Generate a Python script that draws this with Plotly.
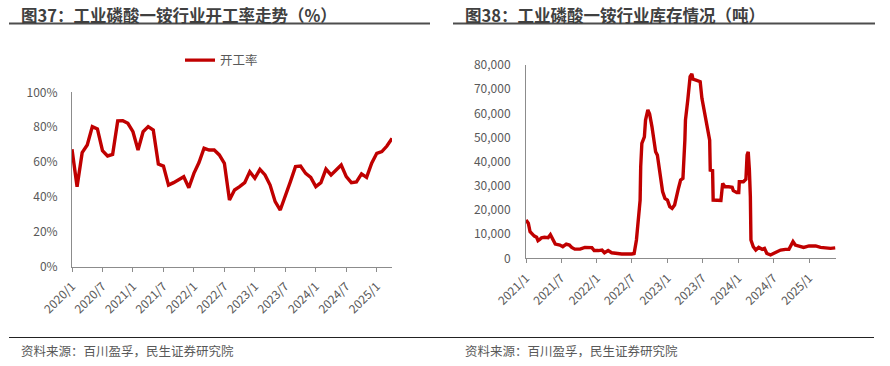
import pandas as pd
import plotly.graph_objects as go

# ---------------- data ----------------
left_title = "图37：工业磷酸一铵行业开工率走势（%）"
right_title = "图38：工业磷酸一铵行业库存情况（吨）"
source_text = "资料来源：百川盈孚，民生证券研究院"
legend_name = "开工率"

months = [d.strftime("%Y/%-m") for d in pd.date_range("2020-01-01", "2025-04-01", freq="MS")]
operating_rate = [67.3, 45.9, 65.4, 69.8, 80.3, 79.0, 66.5, 63.5, 64.4, 83.6,
                  83.7, 82.2, 77.4, 66.9, 77.4, 80.3, 78.4, 58.9, 57.7, 46.8,
                  48.2, 49.7, 51.6, 45.3, 53.5, 59.7, 67.9, 66.9, 66.9, 64.1,
                  59.3, 38.2, 44.0, 45.9, 48.2, 54.5, 50.7, 55.8, 52.6, 46.8,
                  37.3, 32.5, 40.2, 48.8, 57.4, 57.7, 53.5, 51.2, 45.9, 48.2,
                  56.0, 52.6, 55.4, 58.3, 51.6, 48.2, 48.6, 53.2, 51.2, 59.3,
                  65.0, 66.0, 69.2, 73.6]
left_ticks = ["2020/1", "2020/7", "2021/1", "2021/7", "2022/1", "2022/7",
              "2023/1", "2023/7", "2024/1", "2024/7", "2025/1"]

inv_dates = ["2021-01-01", "2021-01-13", "2021-01-22", "2021-02-04", "2021-02-13",
             "2021-02-25", "2021-03-04", "2021-03-13", "2021-03-22", "2021-04-06",
             "2021-04-25", "2021-05-07", "2021-05-19", "2021-06-01", "2021-06-25",
             "2021-07-10", "2021-07-28", "2021-08-13", "2021-08-25", "2021-09-10",
             "2021-10-07", "2021-11-01", "2021-12-07", "2021-12-19", "2022-01-10",
             "2022-01-28", "2022-02-10", "2022-03-01", "2022-03-19", "2022-04-13",
             "2022-05-10", "2022-07-01", "2022-07-13", "2022-07-25", "2022-08-07",
             "2022-08-13", "2022-08-16", "2022-08-22", "2022-09-04", "2022-09-10",
             "2022-09-22", "2022-10-01", "2022-10-13", "2022-10-22", "2022-11-01",
             "2022-11-10", "2022-11-25", "2022-12-07", "2022-12-19", "2023-01-01",
             "2023-01-13", "2023-01-25", "2023-02-07", "2023-02-19", "2023-02-27",
             "2023-03-10", "2023-03-22", "2023-04-01", "2023-04-04", "2023-04-16",
             "2023-04-28", "2023-05-07", "2023-05-13", "2023-05-25", "2023-06-19",
             "2023-06-28", "2023-07-10", "2023-07-22", "2023-08-01", "2023-08-07",
             "2023-08-10", "2023-08-22", "2023-08-25", "2023-09-13", "2023-10-04",
             "2023-10-13", "2023-10-25", "2023-11-13", "2023-12-01", "2023-12-07",
             "2023-12-25", "2024-01-04", "2024-01-07", "2024-01-28", "2024-02-10",
             "2024-02-16", "2024-02-22", "2024-02-28", "2024-03-04", "2024-03-07",
             "2024-03-19", "2024-04-01", "2024-04-16", "2024-05-04", "2024-05-16",
             "2024-05-28", "2024-06-16", "2024-07-01", "2024-07-19", "2024-08-07",
             "2024-09-01", "2024-09-19", "2024-09-28", "2024-10-10", "2024-10-22",
             "2024-11-10", "2024-12-04", "2025-01-01", "2025-02-04", "2025-03-01",
             "2025-03-25", "2025-04-22", "2025-05-16"]
inventory = [15800, 14500, 11000, 9600, 9200,
             8700, 7300, 7800, 8500, 8700,
             8500, 9800, 7600, 5900, 5500,
             4800, 5900, 5500, 4500, 3800,
             3800, 4500, 4400, 3200, 3200,
             3400, 2300, 3200, 2300, 2000,
             1800, 1800, 2000, 7600, 18600,
             24100, 37900, 47600, 50300, 57200,
             61400, 59700, 54500, 50300, 44100,
             42700, 35200, 27600, 24800, 24100,
             21400, 20700, 22100, 25500, 29000,
             32400, 33100, 48900, 57200, 65500,
             75200, 76300, 74100, 73800, 73100,
             66200, 60700, 57200, 51700, 48900,
             36500, 36300, 24100, 23900, 23900,
             31000, 29600, 29600, 29400, 28000,
             27200, 27200, 31700, 31700, 32700,
             42700, 44100, 36500, 25500, 7600,
             4800, 3400, 4500, 3700, 4100,
             2000, 1400, 2000, 2700, 3400,
             3700, 3700, 5100, 6900, 5500,
             5100, 4500, 5100, 5100, 4500,
             4300, 4100, 4300]
right_tickvals = ["2021-01-01", "2021-07-01", "2022-01-01", "2022-07-01", "2023-01-01",
                  "2023-07-01", "2024-01-01", "2024-07-01", "2025-01-01"]
right_ticktext = ["2021/1", "2021/7", "2022/1", "2022/7", "2023/1",
                  "2023/7", "2024/1", "2024/7", "2025/1"]

# ---------------- style ----------------
W, H = 890, 366
RED = "#C00000"
AXIS = "#8C8C8C"
TXT = "#595959"
FONT = "Noto Sans CJK SC"

def px_x(v):
    return v / W

def px_y(v):
    return 1 - v / H

fig = go.Figure()
fig.add_trace(go.Scatter(x=months, y=operating_rate, mode="lines", name=legend_name,
                         line=dict(color=RED, width=3.4), xaxis="x", yaxis="y",
                         showlegend=True))
fig.add_trace(go.Scatter(x=inv_dates, y=inventory, mode="lines", name="库存",
                         line=dict(color=RED, width=3.4), xaxis="x2", yaxis="y2",
                         showlegend=False))

axis_common = dict(showgrid=False, zeroline=False, showline=True, linecolor=AXIS,
                   linewidth=1, automargin=False,
                   tickfont=dict(family=FONT, size=12, color=TXT))

fig.update_layout(
    template="none",
    width=W, height=H, autosize=False,
    margin=dict(l=0, r=0, t=0, b=0, pad=0, autoexpand=False),
    paper_bgcolor="white", plot_bgcolor="white",
    font=dict(family=FONT, color=TXT),
    xaxis=dict(domain=[px_x(72), px_x(392)], type="category", range=[0, len(months) - 1],
               tickmode="array", tickvals=left_ticks, ticktext=left_ticks,
               ticks="outside", ticklen=4, tickcolor=AXIS, tickangle=-45,
               ticklabelstandoff=3, anchor="y", **axis_common),
    yaxis=dict(domain=[px_y(266.7), px_y(92.3)], range=[0, 100], dtick=20,
               ticksuffix="%", ticks="", anchor="x", ticklabelstandoff=11, **axis_common),
    xaxis2=dict(domain=[px_x(526), px_x(836)], type="date",
                range=["2021-01-01", "2025-05-20"],
                tickmode="array", tickvals=right_tickvals, ticktext=right_ticktext,
                ticks="outside", ticklen=4, tickcolor=AXIS, tickangle=-45,
                ticklabelstandoff=3, anchor="y2", **axis_common),
    yaxis2=dict(domain=[px_y(258.3), px_y(65)], range=[0, 80000], dtick=10000,
                tickformat=",d", ticks="", anchor="x2", ticklabelstandoff=12, **axis_common),
    showlegend=True,
    legend=dict(x=px_x(180), y=px_y(60.5), xanchor="left", yanchor="middle",
                orientation="h", bgcolor="rgba(0,0,0,0)",
                font=dict(family=FONT, size=12.5, color=TXT)),
)

shapes = [
    dict(type="line", xref="paper", yref="paper", x0=px_x(9), x1=px_x(430),
         y0=px_y(23.5), y1=px_y(23.5), line=dict(color="#4D4D4D", width=2)),
    dict(type="line", xref="paper", yref="paper", x0=px_x(453), x1=px_x(875),
         y0=px_y(23.5), y1=px_y(23.5), line=dict(color="#4D4D4D", width=2)),
    dict(type="line", xref="paper", yref="paper", x0=px_x(9), x1=px_x(874),
         y0=px_y(337.5), y1=px_y(337.5), line=dict(color="#222222", width=1)),
]
fig.update_layout(shapes=shapes)

annotations = [
    dict(text="<b>" + left_title + "</b>", x=px_x(19), y=px_y(15), xref="paper", yref="paper",
         xanchor="left", yanchor="middle", showarrow=False,
         font=dict(family=FONT, size=16.5, color="#404040")),
    dict(text="<b>" + right_title + "</b>", x=px_x(463), y=px_y(15), xref="paper", yref="paper",
         xanchor="left", yanchor="middle", showarrow=False,
         font=dict(family=FONT, size=16.5, color="#404040")),
    dict(text=source_text, x=px_x(19), y=px_y(350), xref="paper", yref="paper",
         xanchor="left", yanchor="middle", showarrow=False,
         font=dict(family=FONT, size=12.5, color=TXT)),
    dict(text=source_text, x=px_x(463), y=px_y(350), xref="paper", yref="paper",
         xanchor="left", yanchor="middle", showarrow=False,
         font=dict(family=FONT, size=12.5, color=TXT)),
]
fig.update_layout(annotations=annotations)

post = ("document.documentElement.style.margin='0px';"
        "document.body.style.margin='0px';"
        "document.documentElement.style.overflow='hidden';"
        "document.body.style.overflow='hidden';")

fig.write_html("out.html", config={"displayModeBar": False}, post_script=post)
